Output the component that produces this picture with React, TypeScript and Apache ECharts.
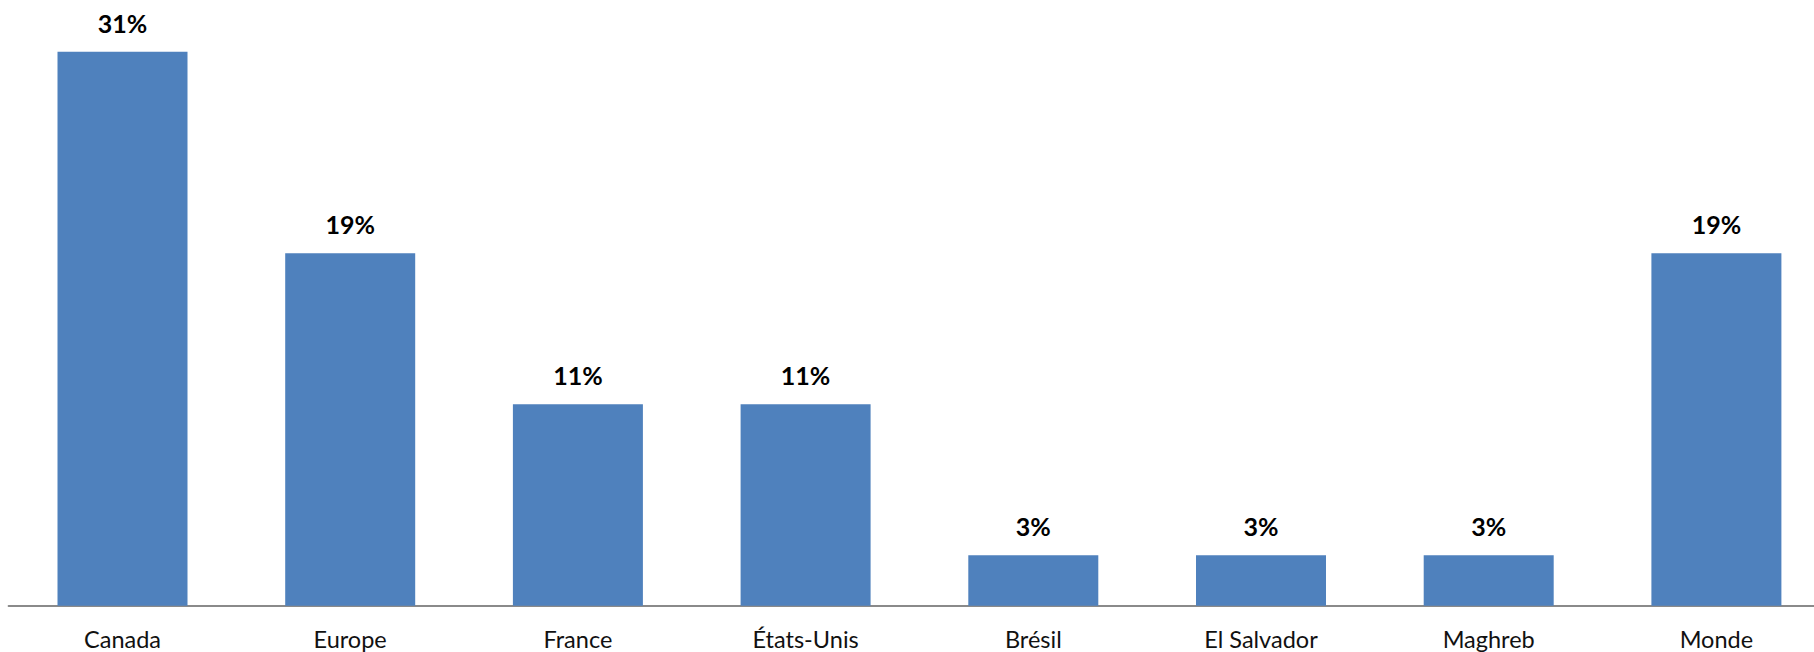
import React, { useEffect, useRef } from "react";
import * as echarts from "echarts";

const categories = ["Canada", "Europe", "France", "États-Unis", "Brésil", "El Salvador", "Maghreb", "Monde"];
const values = [30.56, 19.44, 11.11, 11.11, 2.78, 2.78, 2.78, 19.44];

export default function App() {
  const ref = useRef<HTMLDivElement>(null);
  useEffect(() => {
    if (!ref.current) return;
    const chart = echarts.init(ref.current, undefined, { renderer: "svg" });
    chart.setOption({
      animation: false,
      backgroundColor: "#ffffff",
      grid: { left: 8.65, top: 7.4, width: 1821.6, height: 598.3, containLabel: false },
      xAxis: {
        type: "category",
        data: categories,
        axisLine: { show: true, lineStyle: { color: "#8a8a8a", width: 2 } },
        axisTick: { show: false },
        axisLabel: {
          color: "#111",
          fontFamily: "Lato",
          fontSize: 23.5,
          margin: 21,
          interval: 0,
        },
      },
      yAxis: {
        type: "value",
        min: 0,
        max: 33,
        show: false,
        splitLine: { show: false },
      },
      series: [
        {
          type: "bar",
          data: values,
          barWidth: 130,
          itemStyle: { color: "#4f81bd" },
          label: {
            show: true,
            position: "top",
            distance: 16.5,
            color: "#000",
            fontFamily: "Lato",
            fontWeight: "bold",
            fontSize: 25,
            formatter: (p: any) => Math.round(p.value) + "%",
          },
        },
      ],
    });
    return () => chart.dispose();
  }, []);
  return (
    <div style={{ position: "fixed", left: 0, top: 0, width: 1814, height: 652, overflow: "hidden", background: "#fff" }}>
      <div ref={ref} style={{ width: 1840, height: 652 }} />
    </div>
  );
}
